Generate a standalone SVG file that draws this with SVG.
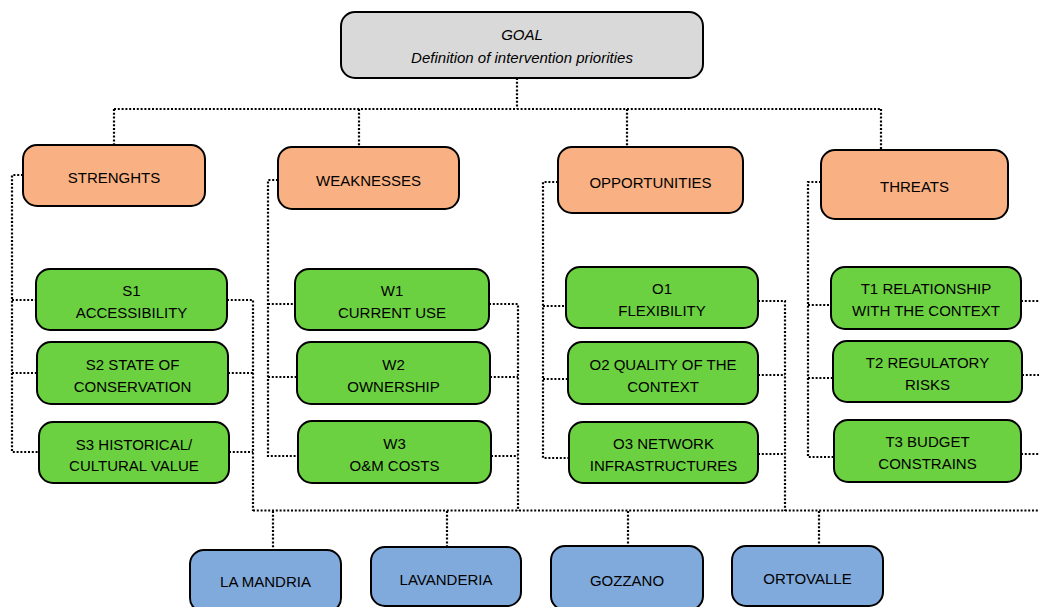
<svg xmlns="http://www.w3.org/2000/svg" width="1039" height="607" viewBox="0 0 1039 607">
<style>
.box{stroke:#000;stroke-width:2;rx:14;ry:14}
.goal{fill:#D9D9D9}
.cat{fill:#F9B183}
.item{fill:#6CD140}
.site{fill:#80AADC}
text{font-family:"Liberation Sans",Arial,sans-serif;font-size:15px;fill:#000;text-anchor:middle}
.it{font-style:italic}
.conn path{fill:none;stroke:#000;stroke-width:2.2;stroke-dasharray:2 1.8}
</style>
<rect width="1039" height="607" fill="#fff"/>
<g class="conn" id="connectors">
<path d="M517 78V109M114 109H881M114 109V145M359 109V147M627 109V147M881 109V150"/>
<path d="M23 175H12V452H39M12 300H36M12 373H37"/>
<path d="M227 300H253V511M228 373H253M229 452H253"/>
<path d="M278 180H268V456H298M268 304H295M268 377H297"/>
<path d="M489 304H518V511M490 377H518M491 456H518"/>
<path d="M558 182H543V458H569M543 306H566M543 379H568"/>
<path d="M758 301H785V511M758 375H785M758 454H785"/>
<path d="M821 182H808V457H834M808 305H831M808 378H833"/>
<path d="M1021 301H1040M1022 375H1040M1021 454H1040"/>
<path d="M253 510.5H1040"/>
<path d="M273 511V550M447 511V547M628 511V546M819 511V546"/>
</g>
<g id="goal"><rect class="box goal" x="341" y="12" width="362" height="66"/><text class="it" x="522" y="40">GOAL</text><text class="it" x="522" y="63">Definition of intervention priorities</text></g>
<g id="strenghts"><rect class="box cat" x="23" y="145" width="182" height="61"/><text x="114" y="183">STRENGHTS</text></g>
<g id="weaknesses"><rect class="box cat" x="278" y="147" width="181" height="62"/><text x="368.5" y="186">WEAKNESSES</text></g>
<g id="opportunities"><rect class="box cat" x="558" y="147" width="185" height="66"/><text x="650.5" y="188">OPPORTUNITIES</text></g>
<g id="threats"><rect class="box cat" x="821" y="150" width="187" height="69"/><text x="914.5" y="192">THREATS</text></g>
<g id="s1"><rect class="box item" x="36" y="269" width="191" height="61"/><text x="131.5" y="296">S1</text><text x="131.5" y="318">ACCESSIBILITY</text></g>
<g id="s2"><rect class="box item" x="37" y="342" width="191" height="62"/><text x="132.5" y="370">S2 STATE OF</text><text x="132.5" y="392">CONSERVATION</text></g>
<g id="s3"><rect class="box item" x="39" y="422" width="190" height="61"/><text x="134" y="450">S3 HISTORICAL/</text><text x="134" y="471">CULTURAL VALUE</text></g>
<g id="w1"><rect class="box item" x="295" y="269" width="194" height="61"/><text x="392" y="296">W1</text><text x="392" y="318">CURRENT USE</text></g>
<g id="w2"><rect class="box item" x="297" y="342" width="193" height="62"/><text x="393.5" y="370">W2</text><text x="393.5" y="392">OWNERSHIP</text></g>
<g id="w3"><rect class="box item" x="298" y="421" width="193" height="62"/><text x="394.5" y="449">W3</text><text x="394.5" y="471">O&amp;M COSTS</text></g>
<g id="o1"><rect class="box item" x="566" y="267" width="192" height="61"/><text x="662" y="294">O1</text><text x="662" y="316">FLEXIBILITY</text></g>
<g id="o2"><rect class="box item" x="568" y="342" width="190" height="62"/><text x="663" y="370">O2 QUALITY OF THE</text><text x="663" y="392">CONTEXT</text></g>
<g id="o3"><rect class="box item" x="569" y="422" width="189" height="61"/><text x="663.5" y="449">O3 NETWORK</text><text x="663.5" y="471">INFRASTRUCTURES</text></g>
<g id="t1"><rect class="box item" x="831" y="267" width="190" height="62"/><text x="926" y="294">T1 RELATIONSHIP</text><text x="926" y="316">WITH THE CONTEXT</text></g>
<g id="t2"><rect class="box item" x="833" y="341" width="189" height="61"/><text x="927.5" y="368">T2 REGULATORY</text><text x="927.5" y="390">RISKS</text></g>
<g id="t3"><rect class="box item" x="834" y="420" width="187" height="62"/><text x="927.5" y="447">T3 BUDGET</text><text x="927.5" y="469">CONSTRAINS</text></g>
<g id="la-mandria"><rect class="box site" x="190" y="550" width="151" height="62"/><text x="265.5" y="587">LA MANDRIA</text></g>
<g id="lavanderia"><rect class="box site" x="371" y="547" width="150" height="59"/><text x="446" y="585">LAVANDERIA</text></g>
<g id="gozzano"><rect class="box site" x="551" y="546" width="152" height="64"/><text x="627" y="586">GOZZANO</text></g>
<g id="ortovalle"><rect class="box site" x="732" y="546" width="151" height="60"/><text x="807.5" y="584">ORTOVALLE</text></g>
</svg>
